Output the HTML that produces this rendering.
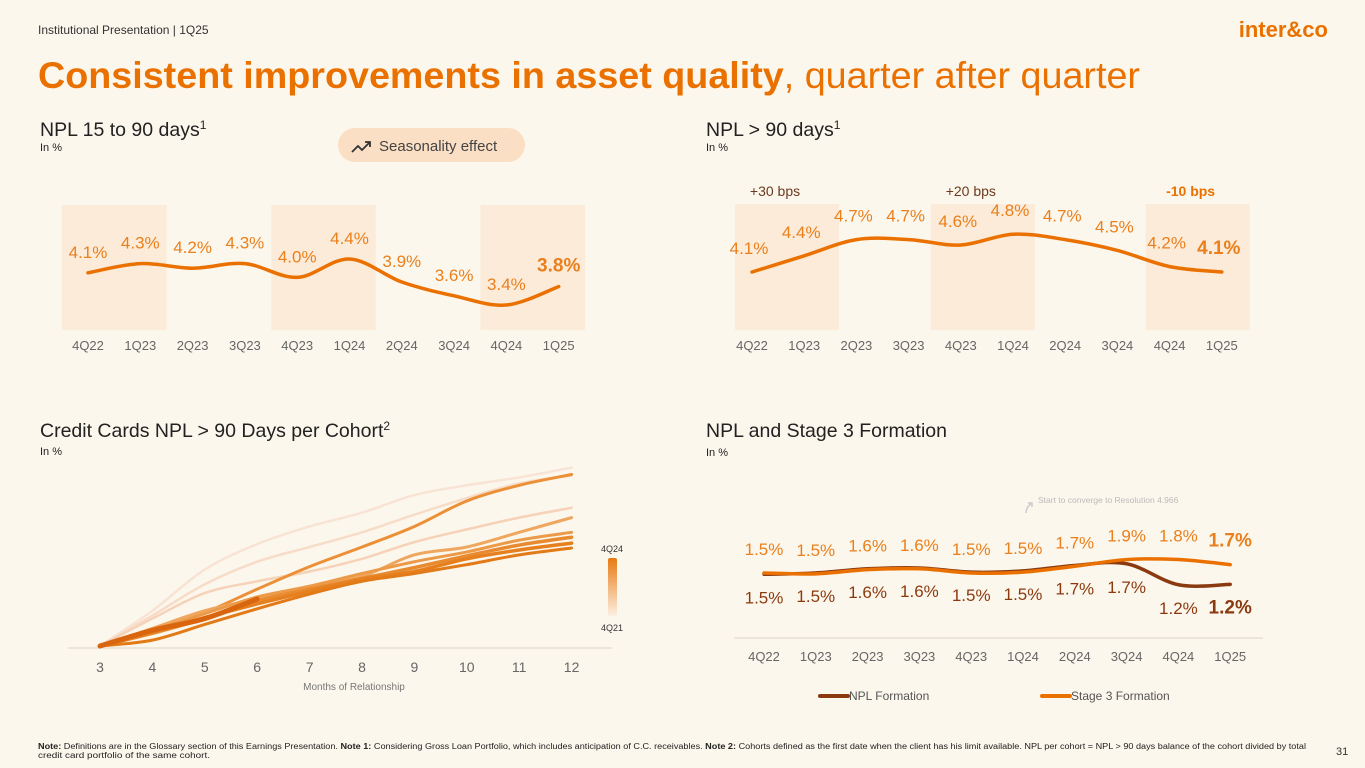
<!DOCTYPE html>
<html><head><meta charset="utf-8"><style>
html,body{margin:0;padding:0;background:#FCF7EC;}
body{width:1365px;height:768px;overflow:hidden;position:relative;font-family:"Liberation Sans",sans-serif;}
svg{position:absolute;left:0;top:0;}
</style></head><body>
<svg id="page" width="1365" height="768" viewBox="0 0 1365 768">
  <text x="38" y="34" font-size="12" fill="#333">Institutional Presentation | 1Q25</text>
  <text x="1328" y="37" font-size="22" font-weight="bold" fill="#EA7100" text-anchor="end">inter&amp;co</text>
  <text x="38" y="88" font-size="37" fill="#EA7100" textLength="1102" lengthAdjust="spacingAndGlyphs"><tspan font-weight="bold">Consistent improvements in asset quality</tspan>, quarter after quarter</text>

  <text x="40" y="136" font-size="19.5" fill="#222">NPL 15 to 90 days<tspan font-size="12" dy="-7">1</tspan></text>
  <text x="40" y="151" font-size="11" fill="#222">In %</text>
  <g>
    <rect x="338" y="128" width="187" height="34" rx="17" fill="#FADFC4"/>
    <path d="M352 152 l6 -6 l4 4 l8 -8 M365 142 h5 v5" stroke="#333" stroke-width="1.8" fill="none"/>
    <text x="379" y="151" font-size="15" fill="#444">Seasonality effect</text>
  </g>

  <text x="706" y="136" font-size="19.5" fill="#222">NPL &gt; 90 days<tspan font-size="12" dy="-7">1</tspan></text>
  <text x="706" y="151" font-size="11" fill="#222">In %</text>

  <text x="40" y="437" font-size="19.5" fill="#222">Credit Cards NPL &gt; 90 Days per Cohort<tspan font-size="12" dy="-7">2</tspan></text>
  <text x="40" y="455" font-size="11" fill="#222">In %</text>

  <text x="706" y="437" font-size="19.5" fill="#222">NPL and Stage 3 Formation</text>
  <text x="706" y="456" font-size="11" fill="#222">In %</text>

  <g id="c1"></g>
  <g id="c2"></g>
  <g id="c3"></g>
  <g id="c4"></g>

  <text x="38" y="749" font-size="8" fill="#222" textLength="1268" lengthAdjust="spacingAndGlyphs"><tspan font-weight="bold">Note:</tspan> Definitions are in the Glossary section of this Earnings Presentation. <tspan font-weight="bold">Note 1:</tspan> Considering Gross Loan Portfolio, which includes anticipation of C.C. receivables.  <tspan font-weight="bold">Note 2:</tspan> Cohorts defined as the first date when the client has his limit available. NPL per cohort = NPL &gt; 90 days balance of the cohort divided by total</text>
  <text x="38" y="758" font-size="8" fill="#222" textLength="172" lengthAdjust="spacingAndGlyphs">credit card portfolio of the same cohort.</text>
  <text x="1336" y="755" font-size="11" fill="#333">31</text>
</svg>
<script>
const quarters = ["4Q22","1Q23","2Q23","3Q23","4Q23","1Q24","2Q24","3Q24","4Q24","1Q25"];
const npl15 = [4.1,4.3,4.2,4.3,4.0,4.4,3.9,3.6,3.4,3.8];
const npl90 = [4.1,4.4,4.7,4.7,4.6,4.8,4.7,4.5,4.2,4.1];
const bpsLabels = ["+30 bps","+20 bps","-10 bps"];
const bpsIndex = [0,4,8];
const months = [3,4,5,6,7,8,9,10,11,12];
const cohortA = [0,1.8,3.9,5.2,6.1,6.8,7.7,8.2,8.6,9.1];
const cohortB = [0,1.55,3.15,4.3,5.05,5.8,6.7,7.55,8.3,8.7];
const cohortC = [0,1.4,2.7,3.3,3.8,4.45,5.3,5.95,6.55,7.05];
const cohortD = [0,0.7,1.7,2.9,4.05,5.05,6.1,7.4,8.2,8.75];
const cohortE = [0,0.9,1.8,2.4,3.05,3.55,4.65,5.05,5.8,6.55];
const cohortF = [0,0.8,1.65,2.5,3.05,3.7,4.3,4.8,5.4,5.8];
const cohortG = [0,0.65,1.4,2.3,2.9,3.45,4.0,4.6,5.15,5.55];
const cohortH = [0,0.7,1.45,2.15,2.8,3.4,3.8,4.45,4.9,5.25];
const cohortI = [0,0.3,1.1,1.9,2.65,3.3,3.7,4.15,4.65,5.0];
const cohort4Q24 = [0,0.8,1.4,2.4];
const cohortSeries = [cohortA,cohortB,cohortC,cohortD,cohortE,cohortF,cohortG,cohortH,cohortI];
const cohortColors = ["#F8E3D4","#F7DCC8","#F5D2B8","#EC9038","#EFA760","#EC9A48","#E88A30","#E6801F","#E27A18"];
const cohortWidths = [2.5,2.5,2.5,3,3,3,3.5,3.5,3];
const npl90Form = [1.5,1.5,1.6,1.6,1.5,1.5,1.7,1.7,1.2,1.2];
const stage3Form = [1.5,1.5,1.6,1.6,1.5,1.5,1.7,1.9,1.8,1.7];
const npl90FormPos = [1.47,1.5,1.6,1.62,1.52,1.55,1.68,1.72,1.22,1.23];
const stage3FormPos = [1.5,1.48,1.58,1.6,1.5,1.52,1.66,1.82,1.82,1.7];

const NS="http://www.w3.org/2000/svg";
function el(parent,tag,attrs){const e=document.createElementNS(NS,tag);for(const k in attrs)e.setAttribute(k,attrs[k]);parent.appendChild(e);return e;}
function smooth(pts){let d="M"+pts[0][0]+" "+pts[0][1];for(let i=0;i<pts.length-1;i++){const p0=pts[i-1]||pts[i],p1=pts[i],p2=pts[i+1],p3=pts[i+2]||p2;const c1x=p1[0]+(p2[0]-p0[0])/6,c1y=p1[1]+(p2[1]-p0[1])/6,c2x=p2[0]-(p3[0]-p1[0])/6,c2y=p2[1]-(p3[1]-p1[1])/6;d+=` C${c1x} ${c1y} ${c2x} ${c2y} ${p2[0]} ${p2[1]}`;}return d;}

// Chart 1
(function(){
  const g=document.getElementById('c1');
  const x=i=>88+i*52.3, y=v=>305-(v-3.4)*46;
  [0,4,8].forEach(i=>{const r=el(g,'rect',{x:x(i)-26,y:205,width:104.6,height:125,fill:'#FCEBD8'});
    
    });
  const p=el(g,'path',{d:smooth(npl15.map((v,i)=>[x(i),y(v)])),stroke:'#EA7100','stroke-width':3.5,fill:'none','stroke-linecap':'round'});
  
  
  npl15.forEach((v,i)=>{const last=i===npl15.length-1;
    const t=el(g,'text',{x:x(i),y:y(v)-15,'font-size':last?19:17,'font-weight':last?'bold':'normal',fill:'#EA7F1C','text-anchor':'middle'});t.textContent=v.toFixed(1)+'%';
    
    
    const q=el(g,'text',{x:x(i),y:350,'font-size':13,fill:'#666','text-anchor':'middle'});q.textContent=quarters[i];
    
    });
})();
// Chart 2
(function(){
  const g=document.getElementById('c2');
  const x=i=>752+i*52.2, y=v=>272-(v-4.1)*54;
  const bandOffsets=[-17,-30,-24];
  bpsIndex.forEach((i,k)=>{const r=el(g,'rect',{x:x(i)+bandOffsets[k],y:204,width:104,height:126,fill:'#FCEBD8'});
    
    
    const last=k===2;
    const t=el(g,'text',{x:x(i)+bandOffsets[k]+(last?45:40),y:196,'font-size':14,'font-weight':last?'bold':'normal',fill:last?'#EA7100':'#6B3A1E','text-anchor':'middle'});t.textContent=bpsLabels[k];
    
    });
  const p=el(g,'path',{d:smooth(npl90.map((v,i)=>[x(i),y(v)])),stroke:'#EA7100','stroke-width':3.5,fill:'none','stroke-linecap':'round'});
  
  
  npl90.forEach((v,i)=>{const last=i===npl90.length-1;
    const t=el(g,'text',{x:x(i)-3,y:y(v)-18,'font-size':last?19:17,'font-weight':last?'bold':'normal',fill:'#EA7F1C','text-anchor':'middle'});t.textContent=v.toFixed(1)+'%';
    
    
    const q=el(g,'text',{x:x(i),y:350,'font-size':13,fill:'#666','text-anchor':'middle'});q.textContent=quarters[i];
    
    });
})();
// Chart 3
(function(){
  const g=document.getElementById('c3');
  const x=m=>100+(m-3)*52.4, y=v=>646-v*19.6;
  const ax=el(g,'line',{x1:68,x2:612,y1:648,y2:648,stroke:'#E8E0D2','stroke-width':1.5});
  
  
  cohortSeries.forEach((s,k)=>{const p=el(g,'path',{d:smooth(s.map((v,i)=>[x(months[i]),y(v)])),stroke:cohortColors[k],'stroke-width':cohortWidths[k],fill:'none','stroke-linecap':'round'});
    
    });
  const p=el(g,'path',{d:smooth(cohort4Q24.map((v,i)=>[x(months[i]),y(v)])),stroke:'#D9660E','stroke-width':5,fill:'none','stroke-linecap':'round'});
  
  
  months.forEach(m=>{const q=el(g,'text',{x:x(m),y:672,'font-size':14,fill:'#666','text-anchor':'middle'});q.textContent=m;
    
    });
  const t=el(g,'text',{x:354,y:690,'font-size':10,fill:'#777','text-anchor':'middle'});t.textContent='Months of Relationship';
  
  
  const defs=el(g,'defs',{});const lg=el(defs,'linearGradient',{id:'cg',x1:0,y1:1,x2:0,y2:0});
  el(lg,'stop',{offset:0,'stop-color':'#FCEFE2'});el(lg,'stop',{offset:1,'stop-color':'#E87A12'});
  const r=el(g,'rect',{x:608,y:558,width:9,height:58,rx:2,fill:'url(#cg)'});
  
  
  const a=el(g,'text',{x:612,y:552,'font-size':9,fill:'#333','text-anchor':'middle'});a.textContent='4Q24';
  
  
  const b=el(g,'text',{x:612,y:631,'font-size':9,fill:'#333','text-anchor':'middle'});b.textContent='4Q21';
  
  
})();
// Chart 4
(function(){
  const g=document.getElementById('c4');
  const x=i=>764+i*51.8, y=v=>573-(v-1.5)*42;
  const ax=el(g,'line',{x1:734,x2:1263,y1:638,y2:638,stroke:'#E8E0D2','stroke-width':1.5});
  
  
  const n=el(g,'text',{x:1038,y:503,'font-size':8.5,fill:'#BBB'});n.textContent='Start to converge to Resolution 4.966';
  
  
  el(g,'path',{d:'M1026 513 q0 -6 6 -10 M1028 503 h4 v4',stroke:'#CCC','stroke-width':1.5,fill:'none'});
  const p1=el(g,'path',{d:smooth(npl90FormPos.map((v,i)=>[x(i),y(v)])),stroke:'#8B3A10','stroke-width':3.5,fill:'none','stroke-linecap':'round'});
  
  
  const p2=el(g,'path',{d:smooth(stage3FormPos.map((v,i)=>[x(i),y(v)])),stroke:'#EA7100','stroke-width':3.5,fill:'none','stroke-linecap':'round'});
  
  
  quarters.forEach((q,i)=>{const last=i===quarters.length-1;
    const t=el(g,'text',{x:x(i),y:y(stage3FormPos[i])-18,'font-size':last?19:17,'font-weight':last?'bold':'normal',fill:'#EA7F1C','text-anchor':'middle'});t.textContent=stage3Form[i].toFixed(1)+'%';
    
    
    const u=el(g,'text',{x:x(i),y:y(npl90FormPos[i])+29,'font-size':last?19:17,'font-weight':last?'bold':'normal',fill:'#8B3A10','text-anchor':'middle'});u.textContent=npl90Form[i].toFixed(1)+'%';
    
    
    const l=el(g,'text',{x:x(i),y:661,'font-size':13,fill:'#666','text-anchor':'middle'});l.textContent=q;
    
    });
  const l1=el(g,'g',{});
  
  el(l1,'line',{x1:820,x2:848,y1:696,y2:696,stroke:'#8B3A10','stroke-width':4,'stroke-linecap':'round'});
  const a=el(l1,'text',{x:849,y:700,'font-size':12,fill:'#555'});a.textContent='NPL Formation';
  const l2=el(g,'g',{});
  
  el(l2,'line',{x1:1042,x2:1070,y1:696,y2:696,stroke:'#EA7100','stroke-width':4,'stroke-linecap':'round'});
  const b=el(l2,'text',{x:1071,y:700,'font-size':12,fill:'#555'});b.textContent='Stage 3 Formation';
})();
</script>
</body></html>
